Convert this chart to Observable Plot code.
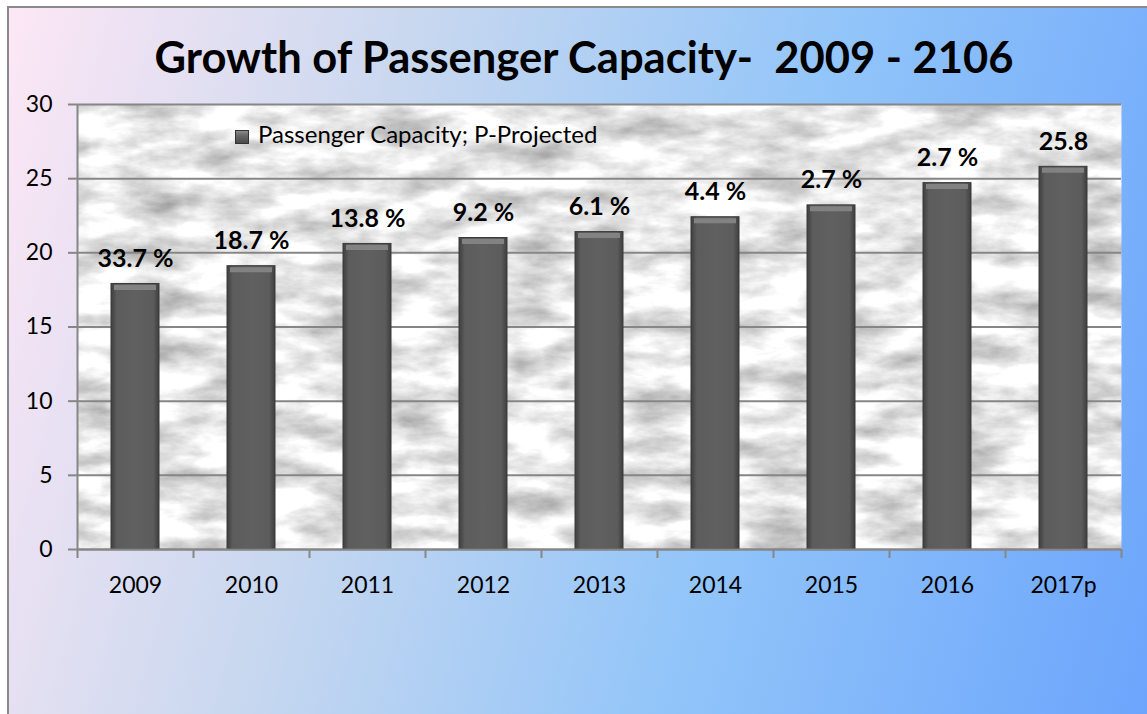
<!DOCTYPE html>
<html><head><meta charset="utf-8">
<script src="https://cdn.jsdelivr.net/npm/d3@7"></script>
<script src="https://cdn.jsdelivr.net/npm/@observablehq/plot@0.6"></script>
<style>
html,body{margin:0;padding:0;background:#fff;width:1147px;height:714px;overflow:hidden;position:relative;font-family:Lato,"DejaVu Sans",sans-serif;}
#card{position:absolute;left:7px;top:6px;width:1160px;height:730px;border-left:2px solid #8a8a8a;border-top:2px solid #8a8a8a;
 background:linear-gradient(105deg,#fde7f5 0%,#c9d8ef 30%,#92c5f9 62%,#6aa3fc 100%);}
#title{position:absolute;left:0;top:31px;width:1168px;text-align:center;font-weight:bold;font-size:43.5px;line-height:50px;color:#000;white-space:pre;}
#chart{position:absolute;left:0;top:90px;}
#legend{position:absolute;left:235px;top:121px;height:26px;line-height:26px;font-size:24px;color:#000;white-space:nowrap;}
#legend .sw{position:absolute;left:0;top:9px;width:14px;height:14px;box-sizing:border-box;border:1px solid #333;
 background:linear-gradient(180deg,#8d8d8d 0%,#6a6a6a 35%,#4a4a4a 100%);}
#legend .lt{position:absolute;left:23px;top:0;}
</style>
</head><body>
<div id="card"></div>
<div id="title"></div>
<div id="chart"></div>
<div id="legend"><span class="sw"></span><span class="lt"></span></div>
<script>
const titleText = "Growth of Passenger Capacity-  2009 - 2106";
const legendText = "Passenger Capacity; P-Projected";
const years = ["2009","2010","2011","2012","2013","2014","2015","2016","2017p"];
const capacity = [17.9, 19.1, 20.6, 21.0, 21.4, 22.4, 23.2, 24.7, 25.8];
const growthLabels = ["33.7 %","18.7 %","13.8 %","9.2 %","6.1 %","4.4 %","2.7 %","2.7 %","25.8"];
const yTicks = [0, 5, 10, 15, 20, 25, 30];

document.getElementById("title").textContent = titleText;
document.querySelector("#legend .lt").textContent = legendText;

const data = years.map((year, i) => ({year, value: capacity[i], label: growthLabels[i]}));

const W = 1147, mL = 77, mR = 26;
const step = (W - mL - mR) / years.length;
const grid = "#868686";

const plot = Plot.plot({
  width: W, height: 509,
  marginTop: 14, marginLeft: mL, marginRight: mR, marginBottom: 50,
  style: {background: "transparent", fontFamily: "Lato, sans-serif", fontSize: "23px", color: "#000", overflow: "visible"},
  x: {domain: years, padding: 0, label: null},
  y: {domain: [0, 30], label: null},
  marks: [
    Plot.frame({fill: "#e6e6e6", stroke: null}),
    Plot.gridY(yTicks, {stroke: grid, strokeOpacity: 1, strokeWidth: 2}),
    Plot.barY(data, {x: "year", y: "value", fill: "url(#barGrad)", stroke: "#3a3a3a", strokeWidth: 1, insetLeft: 34, insetRight: 34}),
    Plot.tickY(data, {x: "year", y: "value", stroke: "#828282", strokeWidth: 5, insetLeft: 37, insetRight: 37, dy: 3.5}),
    Plot.text(data, {x: "year", y: "value", text: "label", dy: -17, lineAnchor: "bottom", fontWeight: "bold", fontSize: 25, fill: "#000"}),
    Plot.ruleY([0], {stroke: grid, strokeWidth: 2}),
    Plot.ruleX([years[0]], {dx: -step / 2, y1: 0, y2: 30, stroke: grid, strokeWidth: 2}),
    Plot.ruleX(years, {dx: -step / 2, y1: 0, y2: 0, insetBottom: -9, stroke: grid, strokeWidth: 2}),
    Plot.ruleX([years[years.length - 1]], {dx: step / 2, y1: 0, y2: 0, insetBottom: -9, stroke: grid, strokeWidth: 2}),
    Plot.axisY(yTicks, {tickSize: 9, tickPadding: 16, stroke: grid, strokeWidth: 2, fontSize: 23, fill: "#000", label: null}),
    Plot.axisX({tickSize: 0, tickPadding: 27, fontSize: 23, fill: "#000", label: null})
  ]
});

const defs = document.createElementNS("http://www.w3.org/2000/svg", "defs");
defs.innerHTML = `
  <linearGradient id="barGrad" x1="0" x2="1" y1="0" y2="0">
    <stop offset="0" stop-color="#3e3e3e"/>
    <stop offset="0.12" stop-color="#5c5c5c"/>
    <stop offset="0.5" stop-color="#606060"/>
    <stop offset="0.88" stop-color="#5c5c5c"/>
    <stop offset="1" stop-color="#3e3e3e"/>
  </linearGradient>
  <filter id="marble" x="0" y="0" width="100%" height="100%" color-interpolation-filters="sRGB">
    <feTurbulence type="fractalNoise" baseFrequency="0.016 0.04" numOctaves="5" seed="11" result="n"/>
    <feColorMatrix in="n" type="matrix" values="0.62 0 0 0 0.6  0.62 0 0 0 0.6  0.62 0 0 0 0.6  0 0 0 0 1" result="g"/>
    <feComposite in="g" in2="SourceGraphic" operator="in"/>
  </filter>`;
plot.insertBefore(defs, plot.firstChild);
const fr = plot.querySelector('[aria-label="frame"]');
if (fr) {
  const r = fr.tagName.toLowerCase() === "rect" ? fr : fr.querySelector("rect");
  if (r) r.setAttribute("filter", "url(#marble)");
}
document.getElementById("chart").appendChild(plot);
</script>
</body></html>
